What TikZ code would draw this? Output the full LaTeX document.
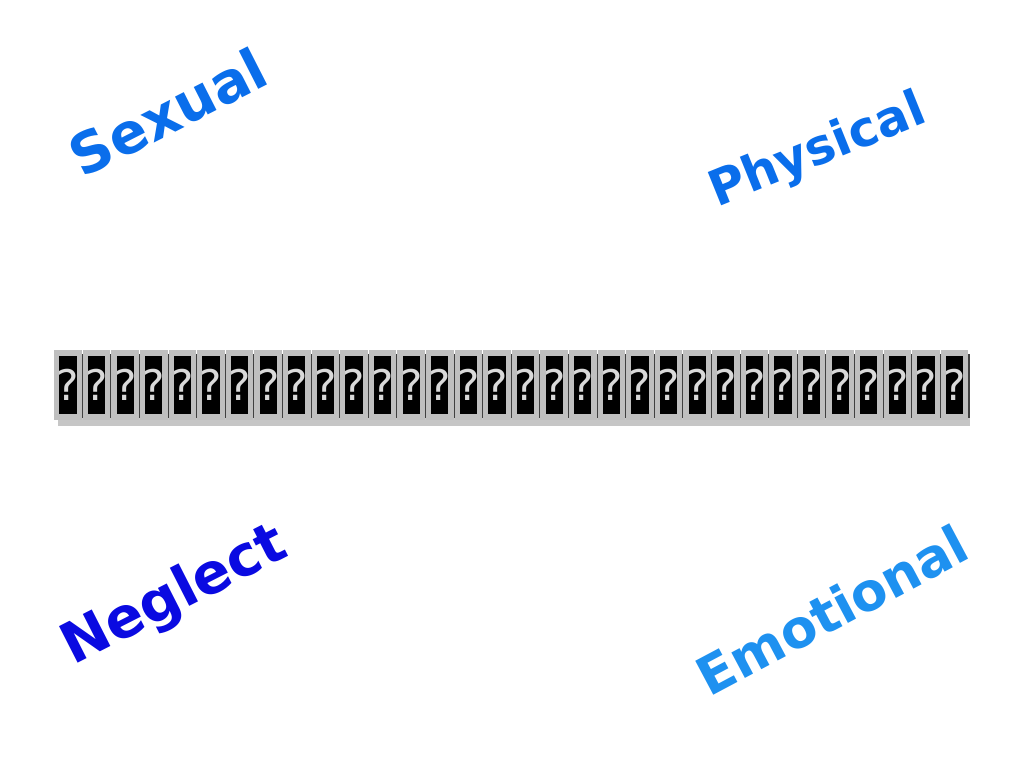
\documentclass[tikz,border=0pt]{standalone}
\usepackage{fontspec}
\setmainfont{DejaVu Sans}
\definecolor{sexblue}{RGB}{10,110,235}
\definecolor{negblue}{RGB}{10,10,225}
\definecolor{emoblue}{RGB}{30,145,240}
\tikzset{word/.style={font=\bfseries\fontsize{#1}{#1}\selectfont},
  qbox/.style={draw=gray!50,line width=1.5pt,fill=black,minimum width=0.2cm,minimum height=0.64cm,inner sep=0pt,text=gray!30,font=\fontsize{12}{12}\selectfont}}
\begin{document}
\begin{tikzpicture}[x=0.01cm,y=-0.01cm]
\useasboundingbox (0,0) rectangle (1024,768);
% words
\node[word=16,text=sexblue,rotate=27] (sexual) at (168,112) {Sexual};
\node[word=14,text=sexblue,rotate=22] (physical) at (818,152) {Physical};
\node[word=16,text=negblue,rotate=27] (neglect) at (175,597) {Neglect};
\node[word=15,text=emoblue,rotate=28] (emotional) at (832,610) {Emotional};
% strip
\fill[black!75] (56,354) rectangle (970,420);
\fill[gray!45] (58,418) rectangle (970,426);
\foreach \i in {0,...,31}
  \node[qbox] (q\i) at (68+28.6*\i,385) {?};
\end{tikzpicture}
\end{document}
